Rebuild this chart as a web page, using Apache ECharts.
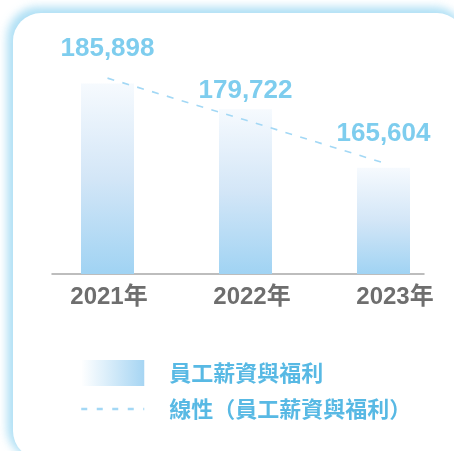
<!DOCTYPE html>
<html>
<head>
<meta charset="utf-8">
<script src="https://cdn.jsdelivr.net/npm/echarts@6/dist/echarts.min.js"></script>
<style>
  html, body { margin: 0; padding: 0; background: #fff; overflow: hidden; }
  #panel {
    position: absolute; left: 13px; top: 13px; width: 452px; height: 446px;
    border-radius: 28px; background: #fff;
    box-shadow: -3px -3px 9px 3px rgba(150, 214, 242, 0.75);
  }
  #main { position: absolute; left: 0; top: 0; width: 454px; height: 451px; }
</style>
</head>
<body>
<div id="panel"></div>
<div id="main"></div>
<script>
const years = ['2021年', '2022年', '2023年']
const salary = [185898, 179722, 165604]
// 線性趨勢線，數值讀自圖片
const trend = [187200, 177100, 166800]
const seriesNames = ['員工薪資與福利', '線性（員工薪資與福利）']

const chart = echarts.init(document.getElementById('main'))

const fmt = v => v.toLocaleString('en-US')

chart.setOption({
  animation: false,
  grid: [
    { left: 38.5, width: 414, top: 25, bottom: 177 }, // bars + line
    { left: 109, width: 286, top: 25, bottom: 177 }, // year labels
    { left: 52, width: 372, top: 25, bottom: 177 } // base line
  ],
  xAxis: [{
    gridIndex: 0,
    type: 'category',
    data: years,
    axisLine: { show: false },
    axisTick: { show: false },
    axisLabel: { show: false }
  }, {
    gridIndex: 1,
    type: 'category',
    boundaryGap: false,
    data: years,
    axisLine: { show: false },
    axisTick: { show: false },
    axisLabel: {
      margin: 11,
      color: '#6e6e6e',
      fontSize: 24,
      fontWeight: 'bold',
      fontFamily: 'Liberation Sans, Noto Sans CJK TC, sans-serif'
    }
  }, {
    gridIndex: 2,
    type: 'category',
    data: years,
    axisLine: { lineStyle: { color: '#a8a8a8', width: 1.5 } },
    axisTick: { show: false },
    axisLabel: { show: false }
  }],
  yAxis: [
    { gridIndex: 0, type: 'value', min: 140000, max: 200000, show: false, splitLine: { show: false } },
    { gridIndex: 1, type: 'value', show: false },
    { gridIndex: 2, type: 'value', show: false }
  ],
  legend: {
    orient: 'vertical',
    left: 80,
    top: 360,
    padding: 0,
    itemWidth: 63,
    itemHeight: 26,
    itemGap: 12,
    textStyle: {
      color: '#58b9e4',
      fontSize: 22,
      fontWeight: 'bold',
      fontFamily: 'Noto Sans CJK TC, sans-serif',
      padding: [0, 0, 0, 20]
    },
    data: [{
      name: seriesNames[0],
      icon: 'rect',
      itemStyle: {
        color: new echarts.graphic.LinearGradient(0, 0, 1, 0, [
          { offset: 0, color: 'rgba(255,255,255,1)' },
          { offset: 1, color: '#a6d5f3' }
        ])
      }
    }, {
      name: seriesNames[1],
      itemStyle: { opacity: 0 },
      lineStyle: { width: 2.5, type: [6, 9.5] }
    }]
  },
  series: [{
    name: seriesNames[0],
    type: 'bar',
    barWidth: 53,
    data: salary,
    itemStyle: {
      color: new echarts.graphic.LinearGradient(0, 0, 0, 1, [
        { offset: 0, color: '#f6fafe' },
        { offset: 0.5, color: '#d3e6f7' },
        { offset: 1, color: '#a0d3f3' }
      ])
    }
  }, {
    name: seriesNames[1],
    type: 'line',
    data: trend,
    symbol: 'circle',
    symbolSize: 0.1,
    itemStyle: { color: 'rgba(0,0,0,0)' },
    lineStyle: { color: '#a3d8f5', width: 1.6, type: [7, 8.5] },
    label: {
      show: true,
      position: 'top',
      distance: 16,
      color: '#7ecdee',
      fontSize: 26,
      fontWeight: 'bold',
      fontFamily: 'Liberation Sans, sans-serif',
      formatter: p => fmt(salary[p.dataIndex])
    }
  }]
})
</script>
</body>
</html>
